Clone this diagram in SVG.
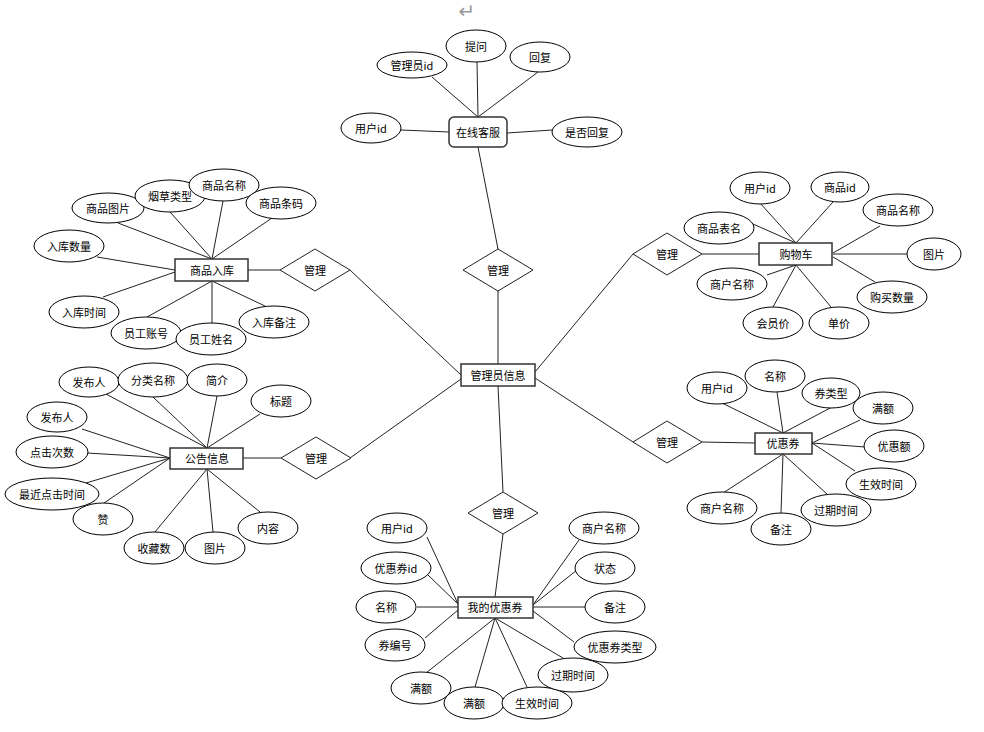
<svg xmlns="http://www.w3.org/2000/svg" width="984" height="732" viewBox="0 0 984 732">
<style>
.e{fill:#fff;stroke:#000;stroke-width:1}
.r{fill:#fff;stroke:#333;stroke-width:1.5}
.d{fill:#fff;stroke:#222;stroke-width:1}
.c line{stroke:#222;stroke-width:1}
text{font-family:"Noto Sans CJK SC","Liberation Sans",sans-serif;font-size:11px;fill:#000;text-anchor:middle;dominant-baseline:central}
</style>
<rect width="984" height="732" fill="#fff"/>
<text x="467" y="11" style="font-family:'DejaVu Sans',sans-serif;font-size:20px;fill:#999">↵</text>
<g id="connectors" class="c">
<line x1="478" y1="147" x2="498" y2="249"/>
<line x1="498" y1="291" x2="498" y2="364"/>
<line x1="350" y1="270" x2="461" y2="375"/>
<line x1="633" y1="254" x2="535" y2="372"/>
<line x1="461" y1="379" x2="350" y2="458"/>
<line x1="535" y1="378" x2="633" y2="442"/>
<line x1="498" y1="386" x2="503" y2="492"/>
<line x1="503" y1="534" x2="495" y2="597"/>
<line x1="432" y1="77" x2="478" y2="117"/>
<line x1="477" y1="62" x2="478" y2="117"/>
<line x1="538" y1="72" x2="478" y2="117"/>
<line x1="401" y1="130" x2="449" y2="132"/>
<line x1="552" y1="130" x2="507" y2="133"/>
<line x1="248" y1="270" x2="280" y2="270"/>
<line x1="118" y1="223" x2="212" y2="259"/>
<line x1="170" y1="212" x2="212" y2="259"/>
<line x1="223" y1="201" x2="212" y2="259"/>
<line x1="272" y1="218" x2="212" y2="259"/>
<line x1="97" y1="257" x2="175" y2="270"/>
<line x1="103" y1="297" x2="175" y2="272"/>
<line x1="147" y1="317" x2="212" y2="281"/>
<line x1="212" y1="323" x2="212" y2="281"/>
<line x1="265" y1="306" x2="212" y2="281"/>
<line x1="702" y1="254" x2="759" y2="254"/>
<line x1="760" y1="203" x2="796" y2="243"/>
<line x1="833" y1="202" x2="796" y2="243"/>
<line x1="753" y1="224" x2="796" y2="243"/>
<line x1="880" y1="226" x2="833" y2="253"/>
<line x1="907" y1="254" x2="833" y2="254"/>
<line x1="875" y1="282" x2="833" y2="257"/>
<line x1="767" y1="275" x2="796" y2="265"/>
<line x1="773" y1="307" x2="796" y2="265"/>
<line x1="831" y1="307" x2="796" y2="265"/>
<line x1="243" y1="458" x2="281" y2="458"/>
<line x1="106" y1="394" x2="207" y2="448"/>
<line x1="153" y1="397" x2="207" y2="448"/>
<line x1="217" y1="396" x2="207" y2="448"/>
<line x1="260" y1="414" x2="207" y2="448"/>
<line x1="82" y1="429" x2="170" y2="458"/>
<line x1="87" y1="453" x2="170" y2="458"/>
<line x1="86" y1="483" x2="170" y2="458"/>
<line x1="104" y1="503" x2="170" y2="458"/>
<line x1="155" y1="532" x2="207" y2="469"/>
<line x1="213" y1="532" x2="207" y2="469"/>
<line x1="260" y1="512" x2="207" y2="469"/>
<line x1="702" y1="442" x2="755" y2="443"/>
<line x1="722" y1="403" x2="783" y2="433"/>
<line x1="777" y1="392" x2="783" y2="433"/>
<line x1="832" y1="407" x2="783" y2="433"/>
<line x1="860" y1="420" x2="812" y2="443"/>
<line x1="865" y1="447" x2="812" y2="443"/>
<line x1="855" y1="471" x2="812" y2="443"/>
<line x1="723" y1="493" x2="783" y2="454"/>
<line x1="781" y1="513" x2="783" y2="454"/>
<line x1="827" y1="494" x2="783" y2="454"/>
<line x1="427" y1="537" x2="458" y2="604"/>
<line x1="428" y1="575" x2="458" y2="604"/>
<line x1="417" y1="607" x2="458" y2="607"/>
<line x1="425" y1="638" x2="458" y2="610"/>
<line x1="579" y1="540" x2="533" y2="605"/>
<line x1="577" y1="570" x2="533" y2="605"/>
<line x1="585" y1="607" x2="533" y2="607"/>
<line x1="574" y1="642" x2="533" y2="611"/>
<line x1="426" y1="673" x2="495" y2="618"/>
<line x1="475" y1="687" x2="495" y2="618"/>
<line x1="527" y1="687" x2="495" y2="618"/>
<line x1="563" y1="658" x2="495" y2="618"/>
</g>
<g id="admin"><rect class="r" x="461" y="364" width="74" height="22"/><text x="498" y="375">管理员信息</text></g>
<g id="rel-top"><polygon class="d" points="498,249 533,270 498,291 463,270"/><text x="498" y="270">管理</text></g>
<g id="rel-left-top"><polygon class="d" points="315,249 350,270 315,291 280,270"/><text x="315" y="270">管理</text></g>
<g id="rel-right-top"><polygon class="d" points="667,233 702,254 667,275 633,254"/><text x="667" y="254">管理</text></g>
<g id="rel-left-bottom"><polygon class="d" points="316,437 351,458 316,479 281,458"/><text x="316" y="458">管理</text></g>
<g id="rel-right-bottom"><polygon class="d" points="667,421 702,442 667,463 633,442"/><text x="667" y="442">管理</text></g>
<g id="rel-bottom"><polygon class="d" points="503,492 538,513 503,534 468,513"/><text x="503" y="513">管理</text></g>
<g id="kefu"><rect class="r" x="449" y="117" width="58" height="30" rx="5"/><text x="478" y="132">在线客服</text></g>
<g id="kf-adminid"><ellipse class="e" cx="412" cy="65" rx="35" ry="13"/><text x="412" y="65">管理员id</text></g>
<g id="kf-tiwen"><ellipse class="e" cx="476" cy="46" rx="30" ry="16"/><text x="476" y="46">提问</text></g>
<g id="kf-huifu"><ellipse class="e" cx="540" cy="57" rx="30" ry="15"/><text x="540" y="57">回复</text></g>
<g id="kf-userid"><ellipse class="e" cx="371" cy="128" rx="30" ry="15"/><text x="371" y="128">用户id</text></g>
<g id="kf-shifou"><ellipse class="e" cx="587" cy="132" rx="35" ry="15"/><text x="587" y="132">是否回复</text></g>
<g id="ruku"><rect class="r" x="175" y="259" width="73" height="22"/><text x="212" y="270">商品入库</text></g>
<g id="rk-tupian"><ellipse class="e" cx="108" cy="208" rx="36" ry="15"/><text x="108" y="208">商品图片</text></g>
<g id="rk-yancao"><ellipse class="e" cx="170" cy="196" rx="35" ry="16"/><text x="170" y="196">烟草类型</text></g>
<g id="rk-mingcheng"><ellipse class="e" cx="224" cy="185" rx="35" ry="16"/><text x="224" y="185">商品名称</text></g>
<g id="rk-tiaoma"><ellipse class="e" cx="281" cy="203" rx="35" ry="16"/><text x="281" y="203">商品条码</text></g>
<g id="rk-shuliang"><ellipse class="e" cx="69" cy="246" rx="35" ry="16"/><text x="69" y="246">入库数量</text></g>
<g id="rk-shijian"><ellipse class="e" cx="84" cy="312" rx="35" ry="16"/><text x="84" y="312">入库时间</text></g>
<g id="rk-zhanghao"><ellipse class="e" cx="146" cy="333" rx="35" ry="16"/><text x="146" y="333">员工账号</text></g>
<g id="rk-xingming"><ellipse class="e" cx="211" cy="339" rx="35" ry="16"/><text x="211" y="339">员工姓名</text></g>
<g id="rk-beizhu"><ellipse class="e" cx="274" cy="322" rx="35" ry="16"/><text x="274" y="322">入库备注</text></g>
<g id="cart"><rect class="r" x="759" y="243" width="73" height="22"/><text x="796" y="254">购物车</text></g>
<g id="ct-userid"><ellipse class="e" cx="760" cy="188" rx="30" ry="16"/><text x="760" y="188">用户id</text></g>
<g id="ct-goodsid"><ellipse class="e" cx="840" cy="187" rx="29" ry="15"/><text x="840" y="187">商品id</text></g>
<g id="ct-name"><ellipse class="e" cx="898" cy="210" rx="35" ry="16"/><text x="898" y="210">商品名称</text></g>
<g id="ct-table"><ellipse class="e" cx="719" cy="228" rx="35" ry="16"/><text x="719" y="228">商品表名</text></g>
<g id="ct-pic"><ellipse class="e" cx="934" cy="254" rx="27" ry="16"/><text x="934" y="254">图片</text></g>
<g id="ct-shop"><ellipse class="e" cx="732" cy="284" rx="35" ry="16"/><text x="732" y="284">商户名称</text></g>
<g id="ct-qty"><ellipse class="e" cx="892" cy="297" rx="35" ry="16"/><text x="892" y="297">购买数量</text></g>
<g id="ct-vip"><ellipse class="e" cx="773" cy="323" rx="30" ry="16"/><text x="773" y="323">会员价</text></g>
<g id="ct-price"><ellipse class="e" cx="839" cy="323" rx="30" ry="16"/><text x="839" y="323">单价</text></g>
<g id="notice"><rect class="r" x="170" y="448" width="73" height="21"/><text x="207" y="458">公告信息</text></g>
<g id="nt-pub1"><ellipse class="e" cx="89" cy="382" rx="30" ry="15"/><text x="89" y="382">发布人</text></g>
<g id="nt-cat"><ellipse class="e" cx="153" cy="380" rx="35" ry="17"/><text x="153" y="380">分类名称</text></g>
<g id="nt-intro"><ellipse class="e" cx="217" cy="380" rx="30" ry="16"/><text x="217" y="380">简介</text></g>
<g id="nt-title"><ellipse class="e" cx="281" cy="401" rx="30" ry="16"/><text x="281" y="401">标题</text></g>
<g id="nt-pub2"><ellipse class="e" cx="57" cy="417" rx="30" ry="15"/><text x="57" y="417">发布人</text></g>
<g id="nt-clicks"><ellipse class="e" cx="52" cy="452" rx="36" ry="16"/><text x="52" y="452">点击次数</text></g>
<g id="nt-last"><ellipse class="e" cx="52" cy="494" rx="47" ry="16"/><text x="52" y="494">最近点击时间</text></g>
<g id="nt-like"><ellipse class="e" cx="103" cy="519" rx="30" ry="16"/><text x="103" y="519">赞</text></g>
<g id="nt-fav"><ellipse class="e" cx="154" cy="548" rx="30" ry="16"/><text x="154" y="548">收藏数</text></g>
<g id="nt-pic"><ellipse class="e" cx="215" cy="548" rx="30" ry="16"/><text x="215" y="548">图片</text></g>
<g id="nt-content"><ellipse class="e" cx="268" cy="528" rx="30" ry="16"/><text x="268" y="528">内容</text></g>
<g id="coupon"><rect class="r" x="755" y="433" width="57" height="21"/><text x="783" y="443">优惠券</text></g>
<g id="cp-userid"><ellipse class="e" cx="717" cy="388" rx="30" ry="16"/><text x="717" y="388">用户id</text></g>
<g id="cp-name"><ellipse class="e" cx="775" cy="376" rx="30" ry="16"/><text x="775" y="376">名称</text></g>
<g id="cp-type"><ellipse class="e" cx="831" cy="393" rx="29" ry="15"/><text x="831" y="393">券类型</text></g>
<g id="cp-full"><ellipse class="e" cx="883" cy="408" rx="30" ry="16"/><text x="883" y="408">满额</text></g>
<g id="cp-disc"><ellipse class="e" cx="894" cy="446" rx="30" ry="16"/><text x="894" y="446">优惠额</text></g>
<g id="cp-start"><ellipse class="e" cx="881" cy="484" rx="35" ry="16"/><text x="881" y="484">生效时间</text></g>
<g id="cp-end"><ellipse class="e" cx="836" cy="510" rx="35" ry="16"/><text x="836" y="510">过期时间</text></g>
<g id="cp-note"><ellipse class="e" cx="781" cy="529" rx="30" ry="16"/><text x="781" y="529">备注</text></g>
<g id="cp-shop"><ellipse class="e" cx="722" cy="508" rx="35" ry="16"/><text x="722" y="508">商户名称</text></g>
<g id="mycoupon"><rect class="r" x="458" y="597" width="75" height="21"/><text x="495" y="607">我的优惠券</text></g>
<g id="mc-userid"><ellipse class="e" cx="397" cy="528" rx="30" ry="15"/><text x="397" y="528">用户id</text></g>
<g id="mc-cid"><ellipse class="e" cx="396" cy="568" rx="35" ry="16"/><text x="396" y="568">优惠券id</text></g>
<g id="mc-name"><ellipse class="e" cx="386" cy="607" rx="30" ry="16"/><text x="386" y="607">名称</text></g>
<g id="mc-no"><ellipse class="e" cx="395" cy="645" rx="30" ry="16"/><text x="395" y="645">券编号</text></g>
<g id="mc-full1"><ellipse class="e" cx="421" cy="688" rx="30" ry="16"/><text x="421" y="688">满额</text></g>
<g id="mc-full2"><ellipse class="e" cx="474" cy="703" rx="30" ry="16"/><text x="474" y="703">满额</text></g>
<g id="mc-start"><ellipse class="e" cx="537" cy="703" rx="35" ry="16"/><text x="537" y="703">生效时间</text></g>
<g id="mc-end"><ellipse class="e" cx="573" cy="675" rx="35" ry="17"/><text x="573" y="675">过期时间</text></g>
<g id="mc-type"><ellipse class="e" cx="615" cy="647" rx="41" ry="16"/><text x="615" y="647">优惠券类型</text></g>
<g id="mc-note"><ellipse class="e" cx="615" cy="607" rx="30" ry="16"/><text x="615" y="607">备注</text></g>
<g id="mc-status"><ellipse class="e" cx="605" cy="568" rx="30" ry="16"/><text x="605" y="568">状态</text></g>
<g id="mc-shop"><ellipse class="e" cx="604" cy="528" rx="35" ry="16"/><text x="604" y="528">商户名称</text></g>
</svg>
